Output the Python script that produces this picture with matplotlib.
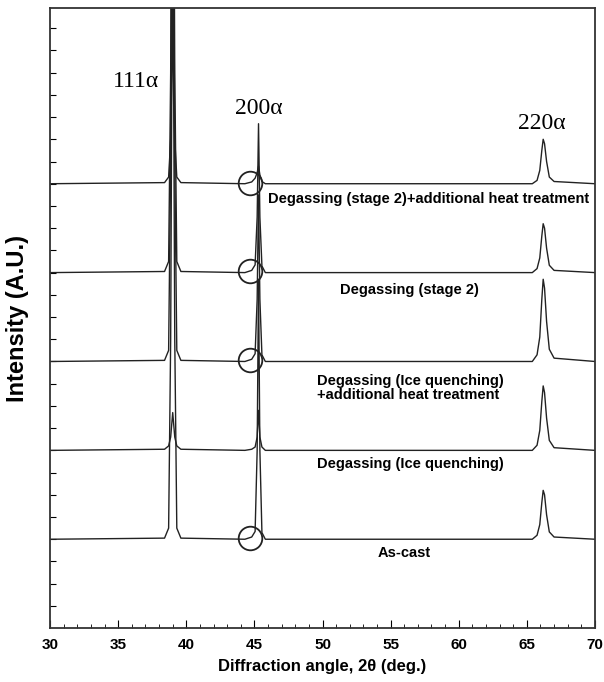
import numpy as np
import matplotlib.pyplot as plt

# key 2-theta positions
two_theta = [30.0, 38.4, 38.7, 38.85, 39.0, 39.15, 39.3, 39.6,
             44.3, 44.8, 45.05, 45.2, 45.3, 45.4, 45.55, 45.8,
             65.4, 65.75, 65.95, 66.1, 66.2, 66.3, 66.45, 66.65, 67.0, 70.0]

# intensities above each baseline (arbitrary units), top trace first
stage2_ht = [0, 0.05, 0.3, 2.0, 6.8, 2.0, 0.3, 0.05,
             0, 0.08, 0.25, 0.5, 0.8, 0.4, 0.1, 0,
             0, 0.15, 0.6, 1.5, 2.0, 1.8, 1.0, 0.3, 0.1, 0]
stage2 = [0, 0.05, 0.5, 9.0, 30.0, 9.0, 0.5, 0.05,
          0, 0.1, 0.35, 2.5, 6.7, 2.5, 0.3, 0,
          0, 0.18, 0.66, 1.65, 2.2, 2.0, 1.1, 0.33, 0.1, 0]
ice_ht = [0, 0.05, 0.5, 9.0, 30.0, 9.0, 0.5, 0.05,
          0, 0.1, 0.35, 2.8, 7.5, 2.8, 0.3, 0,
          0, 0.3, 1.1, 2.8, 3.7, 3.3, 1.8, 0.55, 0.15, 0]
ice = [0, 0.05, 0.2, 0.6, 1.7, 0.6, 0.2, 0.05,
       0, 0.05, 0.15, 0.6, 1.8, 0.6, 0.15, 0,
       0, 0.23, 0.9, 2.2, 2.9, 2.6, 1.45, 0.45, 0.12, 0]
as_cast = [0, 0.05, 0.5, 9.0, 30.0, 9.0, 0.5, 0.05,
           0, 0.1, 0.35, 4.0, 11.7, 4.0, 0.3, 0,
           0, 0.18, 0.66, 1.65, 2.2, 2.0, 1.1, 0.33, 0.1, 0]

traces = [stage2_ht, stage2, ice_ht, ice, as_cast]
offsets = [20, 16, 12, 8, 4]
circled = [True, True, True, False, True]

labels = ["Degassing (stage 2)+additional heat treatment",
          "Degassing (stage 2)",
          "Degassing (Ice quenching)\n+additional heat treatment",
          "Degassing (Ice quenching)",
          "As-cast"]
label_pos = [(46.0, 19.3, 'left'), (51.3, 15.2, 'left'), (49.6, 10.8, 'left'),
             (49.6, 7.4, 'left'), (56.0, 3.4, 'center')]

peaks = ["111\u03b1", "200\u03b1", "220\u03b1"]
peak_pos = [(36.3, 24.6), (45.3, 23.4), (66.1, 22.7)]

fig = plt.figure(figsize=(6.04, 6.82), dpi=100)
ax = fig.add_axes([0.083, 0.079, 0.902, 0.909])

for y, off, circ in zip(traces, offsets, circled):
    ax.plot(two_theta, np.array(y) + off, color='#222222', lw=1.0)
    if circ:
        ax.plot(44.7, off + 0.05, marker='o', ms=17, mfc='none', mec='#222222', mew=1.3)

for txt, (x, y, ha) in zip(labels, label_pos):
    ax.text(x, y, txt, ha=ha, va='center', fontsize=10.5, fontweight='bold',
            family='Liberation Sans', linespacing=1.05)

for txt, (x, y) in zip(peaks, peak_pos):
    ax.text(x, y, txt, ha='center', va='center', fontsize=17, family='Liberation Serif')

ax.set_xlim(30, 70)
ax.set_ylim(0, 27.9)
ax.set_xticks(np.arange(30, 71, 5))
ax.set_xticks(np.arange(30, 71, 1), minor=True)
ax.set_yticks(np.arange(1, 28, 1))
ax.set_yticklabels([])
ax.tick_params(axis='x', which='both', direction='in', top=False, labelsize=11, pad=7)
ax.tick_params(axis='x', which='major', length=6)
ax.tick_params(axis='x', which='minor', length=3)
ax.tick_params(axis='y', direction='in', length=4, right=False)
for lab in ax.get_xticklabels():
    lab.set_fontweight('bold')
    lab.set_family('Liberation Sans')
for s in ax.spines.values():
    s.set_linewidth(1.3)
    s.set_color('#333333')

ax.set_xlabel("Diffraction angle, 2\u03b8 (deg.)", fontsize=12, fontweight='bold',
              family='Liberation Sans', labelpad=5)
ax.set_ylabel("Intensity (A.U.)", fontsize=17, fontweight='bold',
              family='Liberation Sans', labelpad=12)

fig.savefig('out.png', dpi=100)
